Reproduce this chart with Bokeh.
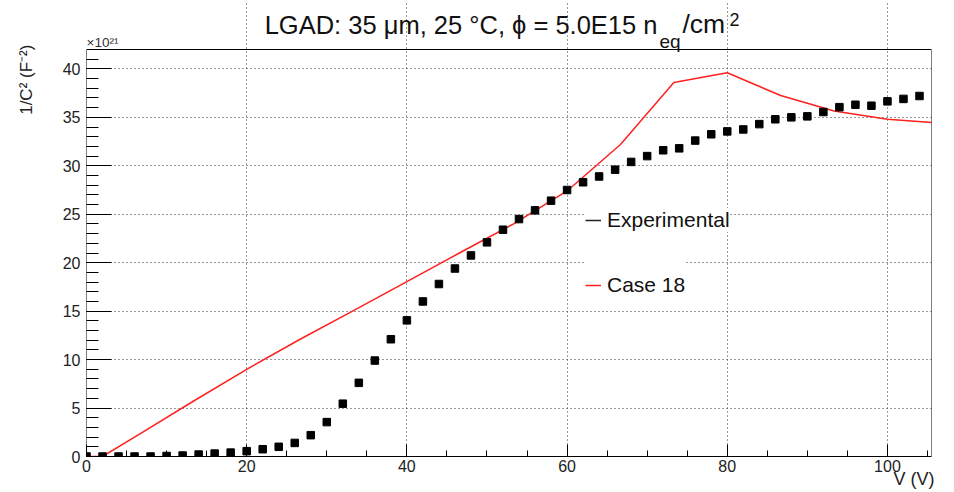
import math
from bokeh.plotting import figure
from bokeh.models import (Range1d, SingleIntervalTicker, FixedTicker, Label, Legend,
                          LegendItem)
from bokeh.embed import file_html
from bokeh.resources import INLINE

# ---- data (1/C^2 in units of 1e21 F^-2) ----
exp_v = [0, 2, 4, 6, 8, 10, 12, 14, 16, 18, 20, 22, 24, 26, 28, 30, 32, 34, 36, 38,
         40, 42, 44, 46, 48, 50, 52, 54, 56, 58, 60, 62, 64, 66, 68, 70, 72, 74, 76, 78,
         80, 82, 84, 86, 88, 90, 92, 94, 96, 98, 100, 102, 104]
exp_c = [0.0, 0.0, 0.0, 0.0, 0.0, 0.05, 0.1, 0.2, 0.3, 0.4, 0.55, 0.75, 1.0, 1.4, 2.2, 3.55,
         5.45, 7.6, 9.9, 12.1, 14.05, 16.0, 17.8, 19.4, 20.75, 22.1, 23.4, 24.5, 25.4, 26.4,
         27.5, 28.3, 28.9, 29.6, 30.4, 31.0, 31.6, 31.8, 32.6, 33.25, 33.55, 33.75, 34.3,
         34.8, 35.0, 35.1, 35.55, 36.05, 36.3, 36.2, 36.65, 36.9, 37.2]

sim_v = [0, 2, 6.67, 13.33, 20, 26.67, 33.33, 40, 46.67, 53.33, 60, 66.67, 73.33, 80,
         86.67, 93.33, 100, 106.67]
sim_c = [0.0, 0.0, 2.33, 5.7, 9.0, 12.1, 15.05, 18.05, 21.05, 24.0, 27.4, 32.2, 38.6, 39.6,
         37.25, 35.65, 34.8, 34.4]

y_major = [0, 5, 10, 15, 20, 25, 30, 35, 40]
y_minor = list(range(0, 42))
x_tick_step = 20

x_max = 105.5
y_max = 42.0

FONT = "Liberation Sans"
W, H = 954, 492
LEFT, RIGHT, BOTTOM = 86, 23, 36
PLOT_TOP = 49                       # pixel row of the drawn top border
frame_h = H - BOTTOM                # frame reaches the top of the canvas
data_h = frame_h - PLOT_TOP
y_end = y_max * frame_h / data_h

NB = "\u00a0"

p = figure(width=W, height=H, output_backend="svg", toolbar_location=None,
           title_location=None,
           x_range=Range1d(0, x_max), y_range=Range1d(0, y_end),
           min_border_left=LEFT, min_border_right=RIGHT, min_border_top=0,
           min_border_bottom=BOTTOM,
           background_fill_color="white", border_fill_color="white")

p.outline_line_color = None

p.xaxis.ticker = SingleIntervalTicker(interval=x_tick_step, num_minor_ticks=4)
p.yaxis.ticker = FixedTicker(ticks=y_major, minor_ticks=y_minor)

for ax in (p.xaxis, p.yaxis):
    ax.axis_line_color = "black"
    ax.axis_line_width = 1
    ax.major_tick_line_color = "black"
    ax.minor_tick_line_color = "black"
    ax.major_tick_out = 0
    ax.minor_tick_out = 0
    ax.major_label_text_font = FONT
    ax.major_label_text_font_size = "16px"
    ax.major_label_text_color = "#222222"
    ax.axis_label_text_font = FONT
    ax.axis_label_text_font_style = "normal"
    ax.axis_label_text_color = "#222222"

p.yaxis.axis_line_color = None
p.xaxis.major_tick_in = 12
p.xaxis.minor_tick_in = 6
p.yaxis.major_tick_in = 25
p.yaxis.minor_tick_in = 12
p.xaxis.major_label_standoff = 3
p.yaxis.major_label_standoff = 6

# axis titles, pushed to the axis ends as ROOT does
p.xaxis.axis_label = NB * 162 + "V (V)"
p.xaxis.axis_label_text_font_size = "18px"
p.xaxis.axis_label_standoff = -6
p.yaxis.axis_label = NB * 63 + "1/C² (F⁻²)"
p.yaxis.axis_label_text_font_size = "17px"
p.yaxis.axis_label_standoff = 24

for g in (p.xgrid, p.ygrid):
    g.grid_line_color = "#333333"
    g.grid_line_dash = "1 3"
    g.grid_line_width = 1

# frame border (left, top, right)
p.segment(x0=[0, 0, x_max], y0=[0, y_max, 0], x1=[0, x_max, x_max], y1=[y_max, y_max, y_max],
          line_color="black", line_width=1)

sim = p.line(sim_v, sim_c, line_color="#ff2020", line_width=1.5)
p.scatter(exp_v, exp_c, marker="square", size=7.5, color="black")
proxy = p.line(exp_v, exp_c, line_color="#222222", line_width=1.5, visible=False)

common = dict(padding=2, margin=0, spacing=0, glyph_width=16, label_standoff=6,
              border_line_color=None, background_fill_color="white",
              background_fill_alpha=1.0, label_text_font=FONT,
              label_text_font_size="21px", label_text_color="#111111")
leg1 = Legend(items=[LegendItem(label="Experimental", renderers=[proxy])],
              location=(499, 224), glyph_height=24, label_height=24, **common)
leg2 = Legend(items=[LegendItem(label="Case 18", renderers=[sim])],
              location=(499, 147), glyph_height=48, label_height=48, **common)
p.add_layout(leg1)
p.add_layout(leg2)

def lab(x, base, text, size, align="left", color="#111111"):
    # x: canvas column; base: canvas row of the text baseline
    anchor = base - 0.3465 * size
    p.add_layout(Label(x=x - LEFT, y=frame_h - anchor, x_units="screen", y_units="screen",
                       text=text, text_font=FONT, text_font_size=f"{size}px",
                       text_align=align, text_baseline="middle", text_color=color))

# title
lab(657, 33, "LGAD: 35 μm, 25 °C, ϕ = 5.0E15 n", 25.5, align="right")
lab(659, 47.5, "eq", 19)
lab(682, 33, "/cm", 26.5)
lab(729, 25, "2", 18)
# exponent
lab(86, 47, "×10²¹", 13.5, color="#333333")

open("out.html", "w").write(file_html(p, INLINE))
